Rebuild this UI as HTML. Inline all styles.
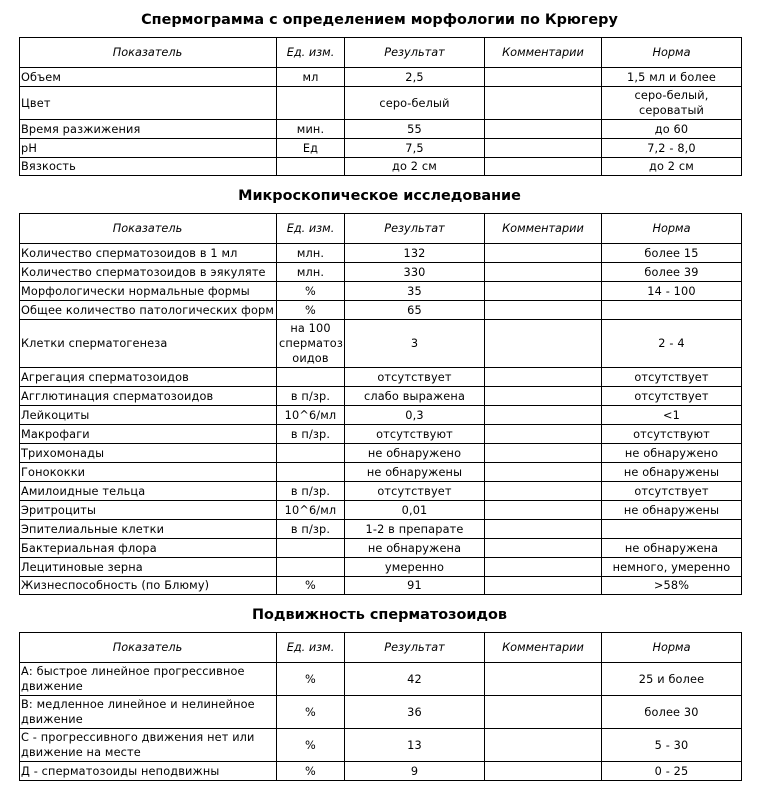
<!DOCTYPE html>
<html><head><meta charset="utf-8"><style>
body{margin:0;width:759px;height:791px;background:#fff;position:relative;font-family:"DejaVu Sans","Liberation Sans",sans-serif;font-size:11.3px;color:#000}
h1{position:absolute;left:0;width:759px;text-align:center;margin:0;font-family:"DejaVu Sans","Liberation Sans",sans-serif;font-weight:bold;font-size:14.4px;line-height:20px}
table{position:absolute;left:19px;border-collapse:collapse;table-layout:fixed;width:723px}
td{border:1px solid #000;padding:0 2px;text-align:center;line-height:15px;vertical-align:middle;overflow:hidden;white-space:nowrap;letter-spacing:0.15px}
td:first-child{text-align:left;padding-left:1px}
tr.h td{font-style:italic;text-align:center;letter-spacing:0}
.w{white-space:normal}
</style></head><body>
<h1 style="top:10px">Спермограмма с определением морфологии по Крюгеру</h1>
<table style="top:37px">
<colgroup><col style="width:257px"><col style="width:68px"><col style="width:140px"><col style="width:117px"><col style="width:140px"></colgroup>
<tr class="h" style="height:30px"><td>Показатель</td><td>Ед. изм.</td><td>Результат</td><td>Комментарии</td><td>Норма</td></tr>
<tr style="height:19px"><td>Объем</td><td>мл</td><td>2,5</td><td></td><td>1,5 мл и более</td></tr>
<tr style="height:33px"><td>Цвет</td><td></td><td>серо-белый</td><td></td><td class="w">серо-белый,<br>сероватый</td></tr>
<tr style="height:19px"><td>Время разжижения</td><td>мин.</td><td>55</td><td></td><td>до 60</td></tr>
<tr style="height:19px"><td>pH</td><td>Ед</td><td>7,5</td><td></td><td>7,2 - 8,0</td></tr>
<tr style="height:18px"><td>Вязкость</td><td></td><td>до 2 см</td><td></td><td>до 2 см</td></tr>
</table>
<h1 style="top:186px">Микроскопическое исследование</h1>
<table style="top:213px">
<colgroup><col style="width:257px"><col style="width:68px"><col style="width:140px"><col style="width:117px"><col style="width:140px"></colgroup>
<tr class="h" style="height:30px"><td>Показатель</td><td>Ед. изм.</td><td>Результат</td><td>Комментарии</td><td>Норма</td></tr>
<tr style="height:19px"><td>Количество сперматозоидов в 1 мл</td><td>млн.</td><td>132</td><td></td><td>более 15</td></tr>
<tr style="height:19px"><td>Количество сперматозоидов в эякуляте</td><td>млн.</td><td>330</td><td></td><td>более 39</td></tr>
<tr style="height:19px"><td>Морфологически нормальные формы</td><td>%</td><td>35</td><td></td><td>14 - 100</td></tr>
<tr style="height:19px"><td>Общее количество патологических форм</td><td>%</td><td>65</td><td></td><td></td></tr>
<tr style="height:48px"><td>Клетки сперматогенеза</td><td>на 100<br>сперматоз<br>оидов</td><td>3</td><td></td><td>2 - 4</td></tr>
<tr style="height:19px"><td>Агрегация сперматозоидов</td><td></td><td>отсутствует</td><td></td><td>отсутствует</td></tr>
<tr style="height:19px"><td>Агглютинация сперматозоидов</td><td>в п/зр.</td><td>слабо выражена</td><td></td><td>отсутствует</td></tr>
<tr style="height:19px"><td>Лейкоциты</td><td>10^6/мл</td><td>0,3</td><td></td><td>&lt;1</td></tr>
<tr style="height:19px"><td>Макрофаги</td><td>в п/зр.</td><td>отсутствуют</td><td></td><td>отсутствуют</td></tr>
<tr style="height:19px"><td>Трихомонады</td><td></td><td>не обнаружено</td><td></td><td>не обнаружено</td></tr>
<tr style="height:19px"><td>Гонококки</td><td></td><td>не обнаружены</td><td></td><td>не обнаружены</td></tr>
<tr style="height:19px"><td>Амилоидные тельца</td><td>в п/зр.</td><td>отсутствует</td><td></td><td>отсутствует</td></tr>
<tr style="height:19px"><td>Эритроциты</td><td>10^6/мл</td><td>0,01</td><td></td><td>не обнаружены</td></tr>
<tr style="height:19px"><td>Эпителиальные клетки</td><td>в п/зр.</td><td>1-2 в препарате</td><td></td><td></td></tr>
<tr style="height:19px"><td>Бактериальная флора</td><td></td><td>не обнаружена</td><td></td><td>не обнаружена</td></tr>
<tr style="height:19px"><td>Лецитиновые зерна</td><td></td><td>умеренно</td><td></td><td>немного, умеренно</td></tr>
<tr style="height:18px"><td>Жизнеспособность (по Блюму)</td><td>%</td><td>91</td><td></td><td>&gt;58%</td></tr>
</table>
<h1 style="top:605px">Подвижность сперматозоидов</h1>
<table style="top:632px">
<colgroup><col style="width:257px"><col style="width:68px"><col style="width:140px"><col style="width:117px"><col style="width:140px"></colgroup>
<tr class="h" style="height:30px"><td>Показатель</td><td>Ед. изм.</td><td>Результат</td><td>Комментарии</td><td>Норма</td></tr>
<tr style="height:33px"><td>А: быстрое линейное прогрессивное<br>движение</td><td>%</td><td>42</td><td></td><td>25 и более</td></tr>
<tr style="height:33px"><td>В: медленное линейное и нелинейное<br>движение</td><td>%</td><td>36</td><td></td><td>более 30</td></tr>
<tr style="height:33px"><td>С - прогрессивного движения нет или<br>движение на месте</td><td>%</td><td>13</td><td></td><td>5 - 30</td></tr>
<tr style="height:19px"><td>Д - сперматозоиды неподвижны</td><td>%</td><td>9</td><td></td><td>0 - 25</td></tr>
</table>
</body></html>
